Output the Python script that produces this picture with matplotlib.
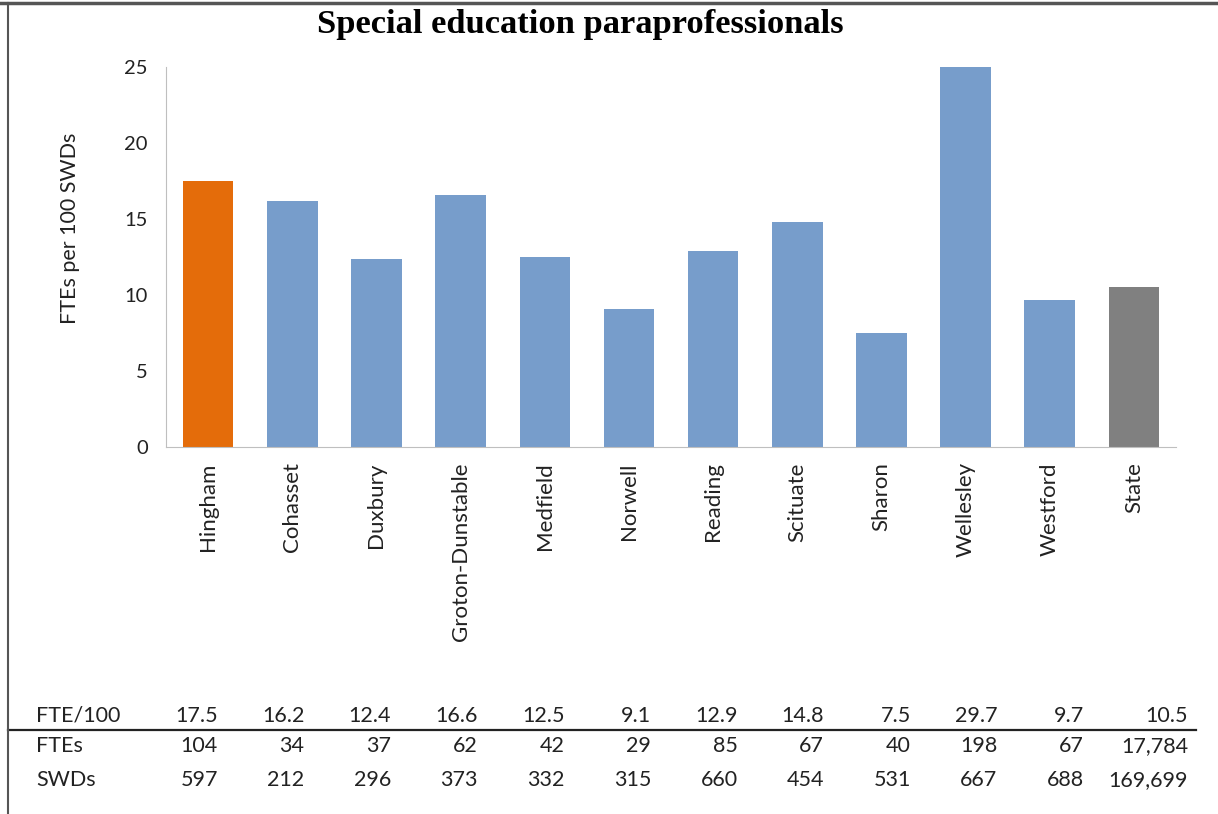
import numpy as np
import matplotlib.pyplot as plt
from matplotlib.lines import Line2D

districts = ['Hingham', 'Cohasset', 'Duxbury', 'Groton-Dunstable', 'Medfield', 'Norwell',
             'Reading', 'Scituate', 'Sharon', 'Wellesley', 'Westford', 'State']
fte_per_100 = [17.5, 16.2, 12.4, 16.6, 12.5, 9.1, 12.9, 14.8, 7.5, 29.7, 9.7, 10.5]
ftes = ['104', '34', '37', '62', '42', '29', '85', '67', '40', '198', '67', '17,784']
swds = ['597', '212', '296', '373', '332', '315', '660', '454', '531', '667', '688', '169,699']

ORANGE = '#E46C0A'
BLUE = '#779DCB'
GRAY = '#808080'
colors = [ORANGE] + [BLUE] * 10 + [GRAY]

plt.rcParams['font.family'] = ['Lato', 'DejaVu Sans']
W, H = 1218, 814
fig = plt.figure(figsize=(W / 100, H / 100), dpi=100)

ax = fig.add_axes([166 / W, 1 - 447 / H, (1176 - 166) / W, (447 - 67) / H])
x = np.arange(len(districts))
ax.bar(x, fte_per_100, width=0.6, color=colors)
ax.set_xlim(-0.5, len(districts) - 0.5)
ax.set_ylim(0, 25)
ax.set_yticks([0, 5, 10, 15, 20, 25])
ax.set_xticks(x)
ax.set_xticklabels(districts, rotation=90, fontsize=16, color='#222222')
ax.tick_params(axis='y', length=0, pad=13, labelsize=14.5, labelcolor='#222222')
ax.tick_params(axis='x', length=0, pad=11)
for s in ['top', 'right']:
    ax.spines[s].set_visible(False)
for s in ['left', 'bottom']:
    ax.spines[s].set_color('#BFBFBF')
ax.set_ylabel('FTEs per 100 SWDs', fontsize=15.5, color='#222222')
ax.yaxis.set_label_coords((80 - 166) / 1010, (447 - 228) / 380)

fig.text(580 / W, 1 - 25 / H, 'Special education paraprofessionals', ha='center', va='center',
         fontsize=24.8, fontweight='bold', family='Liberation Serif')

# summary table under the chart, pixel coordinates
tab = fig.add_axes([0, 0, 1, 1], zorder=-1)
tab.set_xlim(0, W)
tab.set_ylim(H, 0)
tab.axis('off')
rows = [('FTE/100', [f'{v:.1f}' for v in fte_per_100], 716),
        ('FTEs', ftes, 746),
        ('SWDs', swds, 780)]
col_right = [218 + 86.6 * i for i in range(len(districts) - 1)] + [1188]
for label, vals, y in rows:
    tab.text(36, y, label, ha='left', va='center', fontsize=15.5, color='#222222')
    for xr, v in zip(col_right, vals):
        tab.text(xr, y, v, ha='right', va='center', fontsize=15.5, color='#222222')
tab.add_line(Line2D([8, 1196], [730, 730], color='#222222', lw=1.6))

# page frame
tab.add_line(Line2D([8, 8], [3, H], color='#555555', lw=1.5))
tab.add_line(Line2D([0, W], [3, 3], color='#555555', lw=2.5))

fig.savefig('out.png', dpi=100)
